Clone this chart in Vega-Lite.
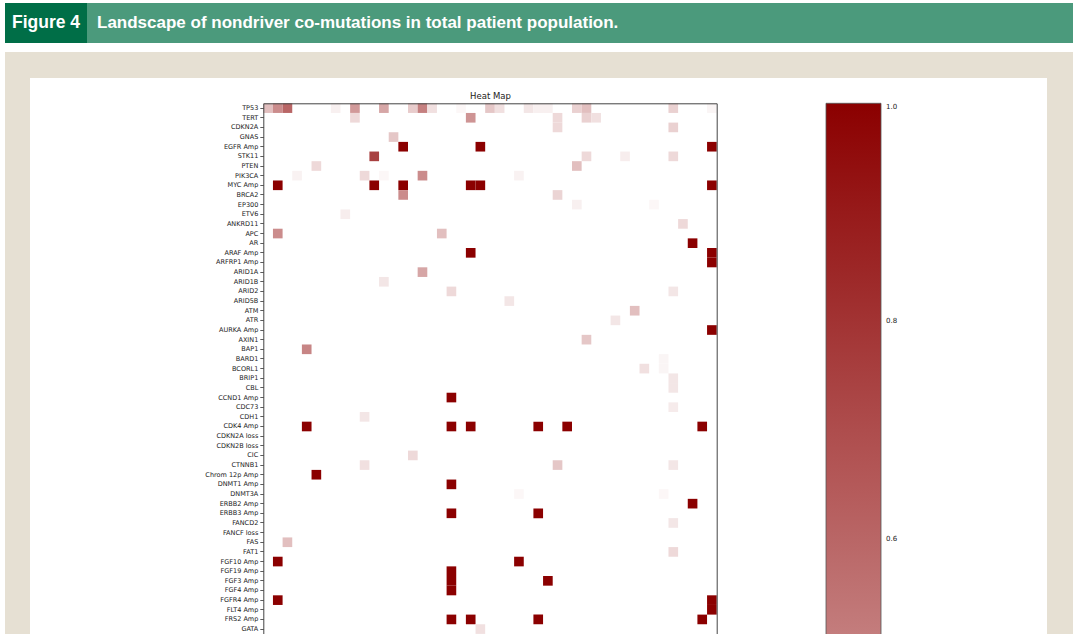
{
  "$schema": "https://vega.github.io/schema/vega-lite/v6.json",
  "background": "white",
  "padding": {"left": 5, "top": 3, "right": 0, "bottom": 0},
  "config": {"view": {"stroke": null}, "axis": {"grid": false}},
  "spacing": 9,
  "vconcat": [
    {
      "spacing": 0,
      "hconcat": [
        {
          "width": 82, "height": 40,
          "view": {"fill": "#006e47", "stroke": null},
          "data": {"values": [{"t": "Figure 4"}]},
          "mark": {"type": "text", "align": "center", "baseline": "middle", "color": "white", "font": "Liberation Sans", "fontSize": 17.5, "fontWeight": "bold"},
          "encoding": {"text": {"field": "t"}}
        },
        {
          "width": 986, "height": 40,
          "view": {"fill": "#4b9a7c", "stroke": null},
          "data": {"values": [{"t": "Landscape of nondriver co-mutations in total patient population."}]},
          "mark": {"type": "text", "align": "left", "baseline": "middle", "dx": 10, "color": "white", "font": "Liberation Sans", "fontSize": 17, "fontWeight": "bold"},
          "encoding": {
            "text": {"field": "t"},
            "x": {"datum": 0, "type": "quantitative", "scale": {"domain": [0, 1]}, "axis": null}
          }
        }
      ]
    },
    {
      "spacing": 0,
      "hconcat": [
        {
          "width": 25, "height": 1156,
          "view": {"fill": "#e6e0d3", "stroke": null},
          "data": {"values": [{}]},
          "mark": {"type": "rect", "opacity": 0}
        },
        {
          "spacing": 0,
          "vconcat": [
            {
              "width": 1017, "height": 26,
              "view": {"fill": "#e6e0d3", "stroke": null},
              "data": {"values": [{}]},
              "mark": {"type": "rect", "opacity": 0}
            },
            {
              "width": 1017, "height": 1130,
              "view": {"fill": "white", "stroke": null},
              "data": {"values": [
                {"g": "TP53", "c": 0, "v": 0.25}, {"g": "TP53", "c": 1, "v": 0.45}, {"g": "TP53", "c": 2, "v": 0.6}, {"g": "TP53", "c": 7, "v": 0.06}, {"g": "TP53", "c": 9, "v": 0.4}, {"g": "TP53", "c": 12, "v": 0.35}, {"g": "TP53", "c": 15, "v": 0.2}, {"g": "TP53", "c": 16, "v": 0.5}, {"g": "TP53", "c": 17, "v": 0.12}, {"g": "TP53", "c": 20, "v": 0.03}, {"g": "TP53", "c": 23, "v": 0.22}, {"g": "TP53", "c": 24, "v": 0.12}, {"g": "TP53", "c": 27, "v": 0.1}, {"g": "TP53", "c": 28, "v": 0.06}, {"g": "TP53", "c": 29, "v": 0.06}, {"g": "TP53", "c": 32, "v": 0.18}, {"g": "TP53", "c": 33, "v": 0.25}, {"g": "TP53", "c": 42, "v": 0.18}, {"g": "TP53", "c": 46, "v": 0.04},
                {"g": "TERT", "c": 9, "v": 0.15}, {"g": "TERT", "c": 21, "v": 0.42}, {"g": "TERT", "c": 30, "v": 0.15}, {"g": "TERT", "c": 33, "v": 0.18}, {"g": "TERT", "c": 34, "v": 0.12},
                {"g": "CDKN2A", "c": 30, "v": 0.15}, {"g": "CDKN2A", "c": 42, "v": 0.18},
                {"g": "GNAS", "c": 13, "v": 0.22},
                {"g": "EGFR Amp", "c": 14, "v": 1}, {"g": "EGFR Amp", "c": 22, "v": 1}, {"g": "EGFR Amp", "c": 46, "v": 1},
                {"g": "STK11", "c": 11, "v": 0.75}, {"g": "STK11", "c": 33, "v": 0.15}, {"g": "STK11", "c": 37, "v": 0.07}, {"g": "STK11", "c": 42, "v": 0.15},
                {"g": "PTEN", "c": 5, "v": 0.15}, {"g": "PTEN", "c": 32, "v": 0.25},
                {"g": "PIK3CA", "c": 3, "v": 0.05}, {"g": "PIK3CA", "c": 10, "v": 0.15}, {"g": "PIK3CA", "c": 12, "v": 0.03}, {"g": "PIK3CA", "c": 16, "v": 0.45}, {"g": "PIK3CA", "c": 26, "v": 0.05},
                {"g": "MYC Amp", "c": 1, "v": 1}, {"g": "MYC Amp", "c": 11, "v": 1}, {"g": "MYC Amp", "c": 14, "v": 1}, {"g": "MYC Amp", "c": 21, "v": 1}, {"g": "MYC Amp", "c": 22, "v": 1}, {"g": "MYC Amp", "c": 46, "v": 1},
                {"g": "BRCA2", "c": 14, "v": 0.45}, {"g": "BRCA2", "c": 30, "v": 0.17},
                {"g": "EP300", "c": 32, "v": 0.06}, {"g": "EP300", "c": 40, "v": 0.03},
                {"g": "ETV6", "c": 8, "v": 0.07},
                {"g": "ANKRD11", "c": 43, "v": 0.15},
                {"g": "APC", "c": 1, "v": 0.45}, {"g": "APC", "c": 18, "v": 0.25},
                {"g": "AR", "c": 44, "v": 1},
                {"g": "ARAF Amp", "c": 21, "v": 1}, {"g": "ARAF Amp", "c": 46, "v": 1},
                {"g": "ARFRP1 Amp", "c": 46, "v": 1},
                {"g": "ARID1A", "c": 16, "v": 0.35},
                {"g": "ARID1B", "c": 12, "v": 0.1},
                {"g": "ARID2", "c": 19, "v": 0.15}, {"g": "ARID2", "c": 42, "v": 0.1},
                {"g": "ARID5B", "c": 25, "v": 0.1},
                {"g": "ATM", "c": 38, "v": 0.25},
                {"g": "ATR", "c": 36, "v": 0.1},
                {"g": "AURKA Amp", "c": 46, "v": 1},
                {"g": "AXIN1", "c": 33, "v": 0.22},
                {"g": "BAP1", "c": 4, "v": 0.48},
                {"g": "BARD1", "c": 41, "v": 0.04},
                {"g": "BCORL1", "c": 39, "v": 0.12}, {"g": "BCORL1", "c": 41, "v": 0.04},
                {"g": "BRIP1", "c": 42, "v": 0.1},
                {"g": "CBL", "c": 42, "v": 0.1},
                {"g": "CCND1 Amp", "c": 19, "v": 1},
                {"g": "CDC73", "c": 42, "v": 0.08},
                {"g": "CDH1", "c": 10, "v": 0.1},
                {"g": "CDK4 Amp", "c": 4, "v": 1}, {"g": "CDK4 Amp", "c": 19, "v": 1}, {"g": "CDK4 Amp", "c": 21, "v": 1}, {"g": "CDK4 Amp", "c": 28, "v": 1}, {"g": "CDK4 Amp", "c": 31, "v": 1}, {"g": "CDK4 Amp", "c": 45, "v": 1},
                {"g": "CIC", "c": 15, "v": 0.15},
                {"g": "CTNNB1", "c": 10, "v": 0.12}, {"g": "CTNNB1", "c": 30, "v": 0.22}, {"g": "CTNNB1", "c": 42, "v": 0.1},
                {"g": "Chrom 12p Amp", "c": 5, "v": 1},
                {"g": "DNMT1 Amp", "c": 19, "v": 1},
                {"g": "DNMT3A", "c": 26, "v": 0.03}, {"g": "DNMT3A", "c": 41, "v": 0.03},
                {"g": "ERBB2 Amp", "c": 44, "v": 1},
                {"g": "ERBB3 Amp", "c": 19, "v": 1}, {"g": "ERBB3 Amp", "c": 28, "v": 1},
                {"g": "FANCD2", "c": 42, "v": 0.1},
                {"g": "FAS", "c": 2, "v": 0.25},
                {"g": "FAT1", "c": 42, "v": 0.15},
                {"g": "FGF10 Amp", "c": 1, "v": 1}, {"g": "FGF10 Amp", "c": 26, "v": 1},
                {"g": "FGF19 Amp", "c": 19, "v": 1},
                {"g": "FGF3 Amp", "c": 19, "v": 1}, {"g": "FGF3 Amp", "c": 29, "v": 1},
                {"g": "FGF4 Amp", "c": 19, "v": 1},
                {"g": "FGFR4 Amp", "c": 1, "v": 1}, {"g": "FGFR4 Amp", "c": 46, "v": 1},
                {"g": "FLT4 Amp", "c": 46, "v": 1},
                {"g": "FRS2 Amp", "c": 19, "v": 1}, {"g": "FRS2 Amp", "c": 21, "v": 1}, {"g": "FRS2 Amp", "c": 28, "v": 1}, {"g": "FRS2 Amp", "c": 45, "v": 1},
                {"g": "GATA", "c": 22, "v": 0.12}
              ]},
              "layer": [
                {
                  "mark": {"type": "rect", "strokeWidth": 0},
                  "encoding": {
                    "x": {
                      "field": "c", "type": "ordinal",
                      "scale": {"domain": [0,1,2,3,4,5,6,7,8,9,10,11,12,13,14,15,16,17,18,19,20,21,22,23,24,25,26,27,28,29,30,31,32,33,34,35,36,37,38,39,40,41,42,43,44,45,46], "range": [233.3, 686.7], "paddingInner": 0, "paddingOuter": 0},
                      "axis": {"orient": "top", "offset": -25.3, "labels": false, "ticks": false, "domain": true, "domainColor": "#444", "domainWidth": 1, "title": "Heat Map", "titleFont": "DejaVu Sans", "titleFontSize": 8.5, "titleFontWeight": "normal", "titleColor": "#222", "titlePadding": 3, "minExtent": 0, "maxExtent": 0}
                    },
                    "y": {
                      "field": "g", "type": "nominal",
                      "scale": {"domain": ["TP53","TERT","CDKN2A","GNAS","EGFR Amp","STK11","PTEN","PIK3CA","MYC Amp","BRCA2","EP300","ETV6","ANKRD11","APC","AR","ARAF Amp","ARFRP1 Amp","ARID1A","ARID1B","ARID2","ARID5B","ATM","ATR","AURKA Amp","AXIN1","BAP1","BARD1","BCORL1","BRIP1","CBL","CCND1 Amp","CDC73","CDH1","CDK4 Amp","CDKN2A loss","CDKN2B loss","CIC","CTNNB1","Chrom 12p Amp","DNMT1 Amp","DNMT3A","ERBB2 Amp","ERBB3 Amp","FANCD2","FANCF loss","FAS","FAT1","FGF10 Amp","FGF19 Amp","FGF3 Amp","FGF4 Amp","FGFR4 Amp","FLT4 Amp","FRS2 Amp","GATA"], "range": [25.3, 555.9], "paddingInner": 0, "paddingOuter": 0},
                      "axis": {"orient": "left", "offset": -233.3, "title": null, "labelFont": "DejaVu Sans", "labelFontSize": 6.5, "labelColor": "#222", "tickSize": 3.5, "tickColor": "#333", "tickWidth": 0.8, "labelPadding": 2, "domainColor": "#444", "domainWidth": 1}
                    },
                    "color": {
                      "field": "v", "type": "quantitative",
                      "scale": {"type": "linear", "domain": [0, 1], "range": ["#ffffff", "#8b0000"], "interpolate": "rgb"},
                      "legend": {"orient": "none", "legendX": 821, "legendY": 100.3, "direction": "vertical", "title": null, "gradientLength": 1090, "gradientThickness": 55, "values": [0.6, 0.8, 1], "format": ".1f", "labelFont": "DejaVu Sans", "labelFontSize": 7, "labelColor": "#222", "labelOffset": 5, "labelBaseline": "middle", "gradientStrokeColor": "#555", "gradientStrokeWidth": 0.8, "padding": 0}
                    }
                  }
                },
                {
                  "mark": {"type": "rect", "opacity": 0},
                  "encoding": {
                    "y": {
                      "field": "g", "type": "nominal",
                      "axis": {"orient": "right", "offset": -330.3, "labels": false, "ticks": false, "title": null, "domain": true, "domainColor": "#444", "domainWidth": 1}
                    }
                  }
                }
              ],
              "resolve": {"axis": {"y": "independent"}}
            }
          ]
        },
        {
          "width": 26, "height": 1156,
          "view": {"fill": "#e6e0d3", "stroke": null},
          "data": {"values": [{}]},
          "mark": {"type": "rect", "opacity": 0}
        }
      ]
    }
  ]
}
